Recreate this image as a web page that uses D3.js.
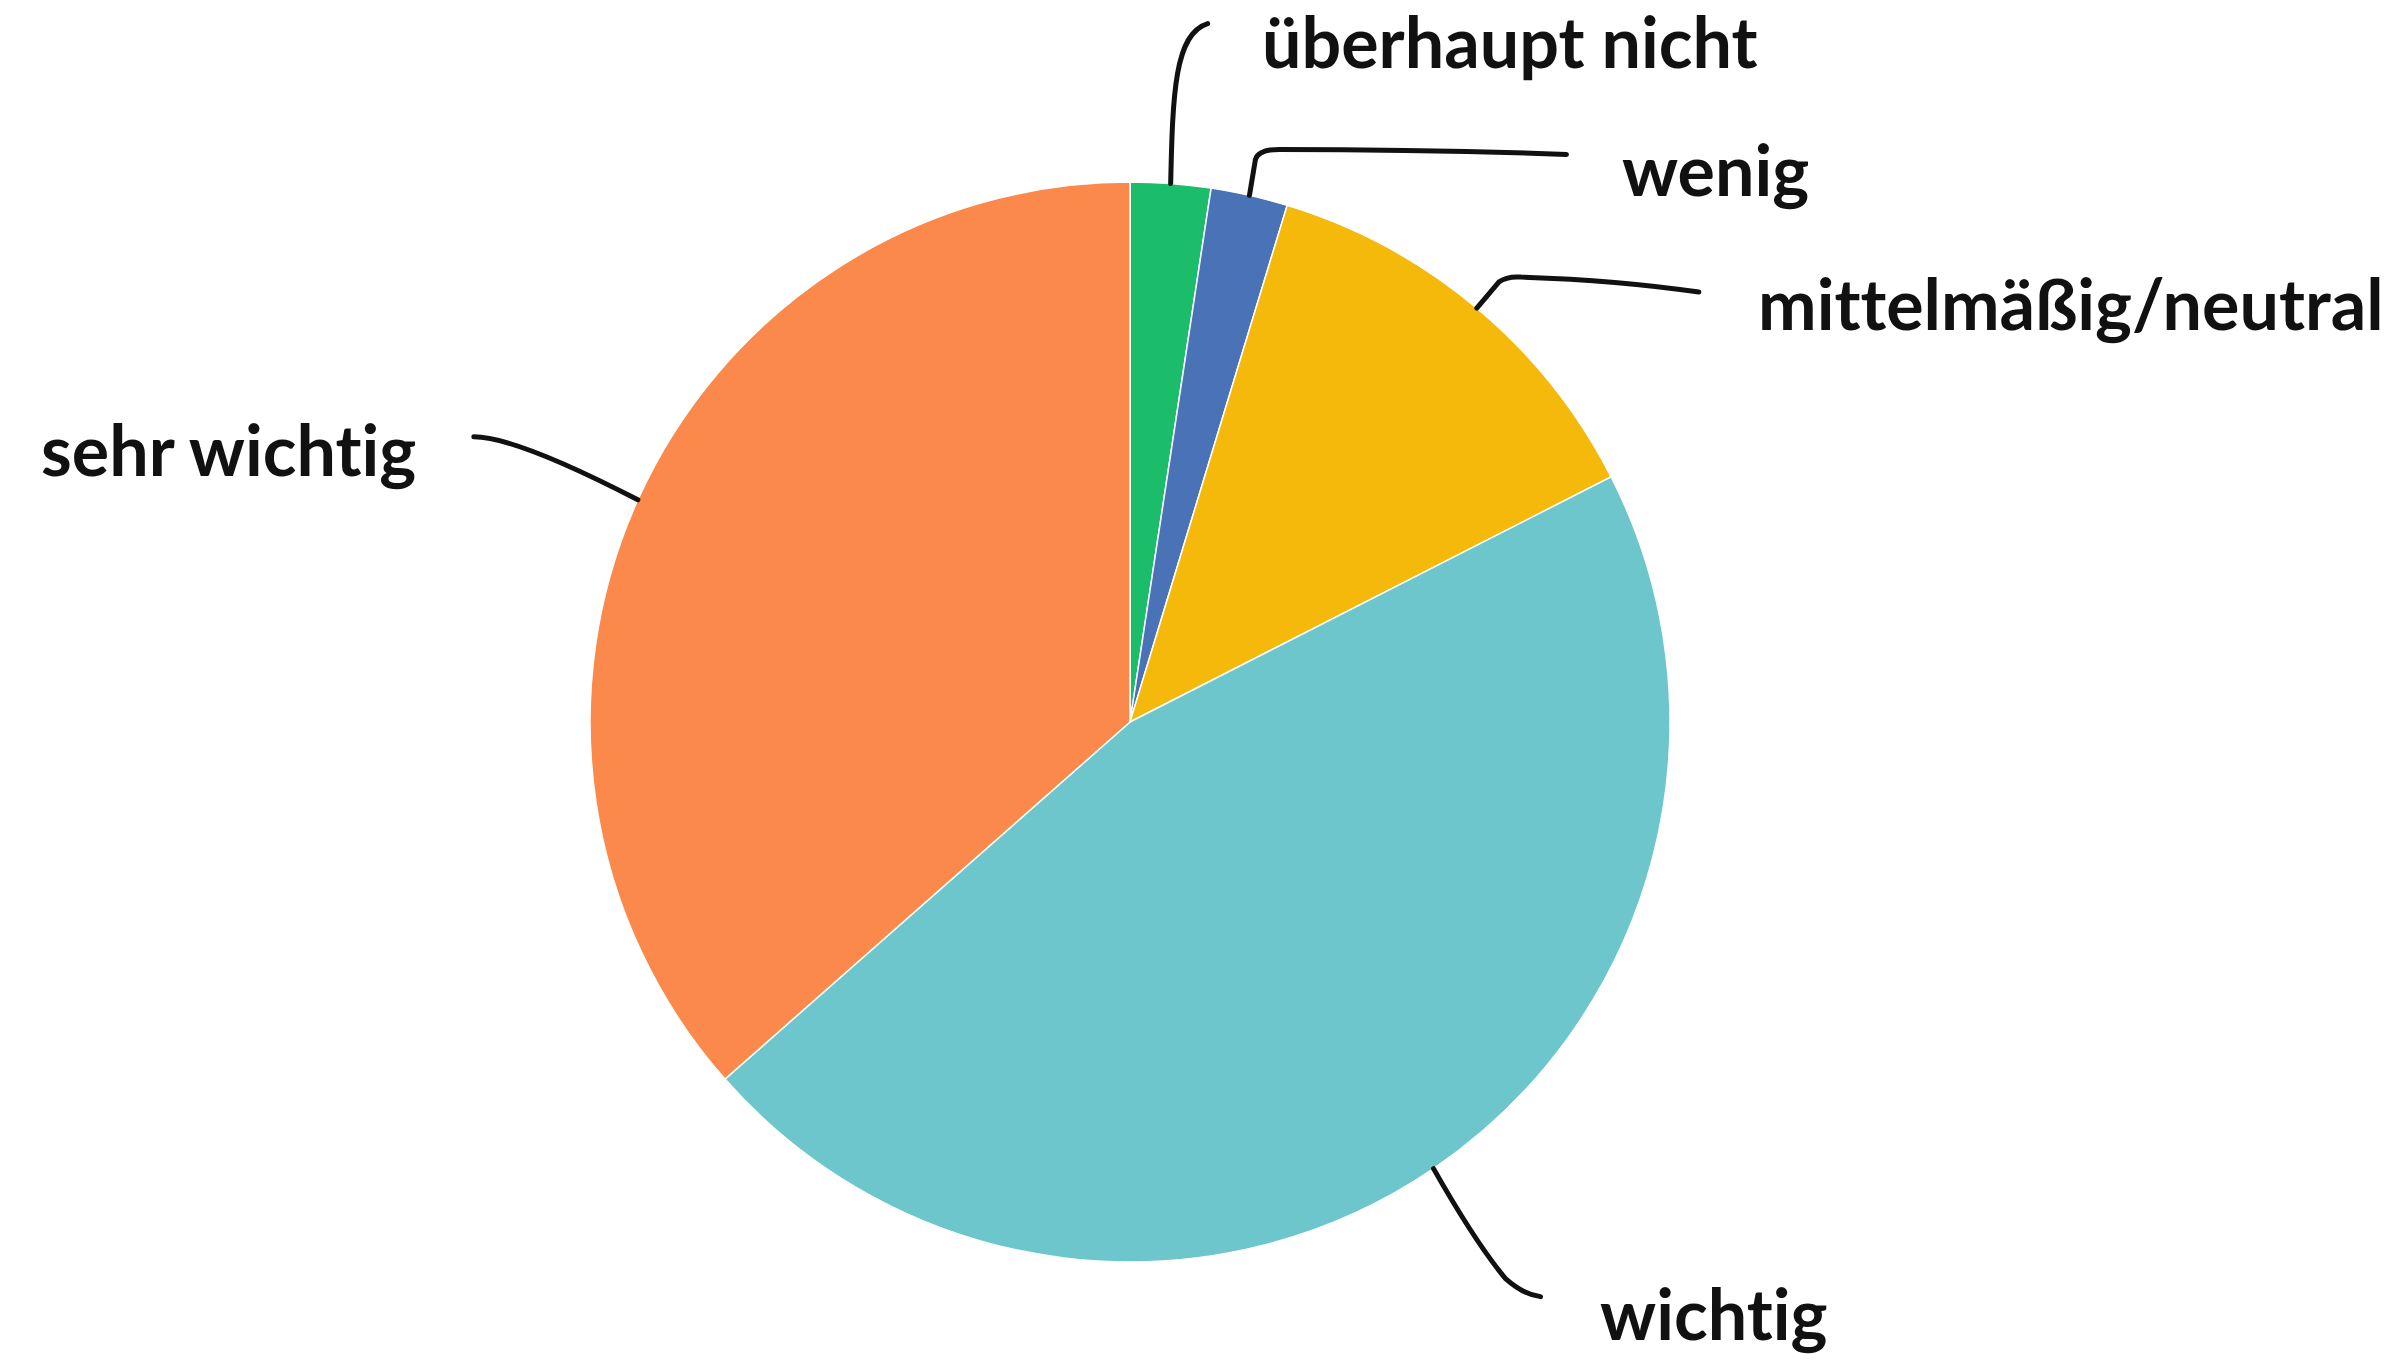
<!DOCTYPE html>
<html>
<head>
<meta charset="utf-8">
<script src="https://cdn.jsdelivr.net/npm/d3@7"></script>
<style>
  html, body { margin: 0; padding: 0; background: #ffffff; }
  svg { display: block; }
  text.label { font-variant-ligatures: none; font-feature-settings: "liga" 0, "clig" 0; }
</style>
</head>
<body>
<svg id="chart" width="2407" height="1365"></svg>
<script>
// Answers to "Wie wichtig ist …?" – share of responses in percent
const categories = ["überhaupt nicht", "wenig", "mittelmäßig/neutral", "wichtig", "sehr wichtig"];
const shares = [2.4, 2.3, 12.8, 46.0, 36.5];
const colors = ["#1bbd6b", "#4a72b7", "#f5b90b", "#6dc6cb", "#fa894b"];

// Label placement: anchor of the text and the shape of its leader line
// (leader offsets are relative to the slice's point on the rim)
const labelLayout = [
  { x: 1262, y: 68,   anchor: "start", leader: d => `M0,0 C2,-90 4,-150 37,-160` },
  { x: 1622, y: 196,  anchor: "start", leader: d => `M0,0 L6,-36 Q9,-46 30,-46 Q180,-46 317,-41` },
  { x: 1758, y: 330,  anchor: "start", leader: d => `M0,0 L22,-26 Q30,-32 44,-31 Q140,-28 222,-16` },
  { x: 1600, y: 1340, anchor: "start", leader: d => `M0,0 Q42,74 72,110 Q90,126 107,128` },
  { x: 41,   y: 476,  anchor: "start", leader: d => `M0,0 Q-122,-63 -164,-63` }
];

const svg = d3.select("#chart");
const cx = 1130, cy = 722, radius = 540;

const pie = d3.pie().sort(null).value(d => d.value);
const arcs = pie(categories.map((c, i) => ({ name: c, value: shares[i], color: colors[i] })));

const arc = d3.arc().innerRadius(0).outerRadius(radius);
const rim = d3.arc().innerRadius(radius).outerRadius(radius);

const g = svg.append("g").attr("transform", `translate(${cx},${cy})`);

g.selectAll("path.slice")
  .data(arcs)
  .join("path")
  .attr("class", "slice")
  .attr("d", arc)
  .attr("fill", d => d.data.color)
  .attr("stroke", "#ffffff")
  .attr("stroke-width", 1.5);

// Leader lines start at the middle of each slice's outer edge
g.selectAll("path.leader")
  .data(arcs)
  .join("path")
  .attr("class", "leader")
  .attr("transform", d => { const [x, y] = rim.centroid(d); return `translate(${x},${y})`; })
  .attr("d", (d, i) => labelLayout[i].leader(d))
  .attr("fill", "none")
  .attr("stroke", "#111111")
  .attr("stroke-width", 5)
  .attr("stroke-linecap", "round");

svg.selectAll("text.label")
  .data(arcs)
  .join("text")
  .attr("class", "label")
  .attr("x", (d, i) => labelLayout[i].x)
  .attr("y", (d, i) => labelLayout[i].y)
  .attr("text-anchor", (d, i) => labelLayout[i].anchor)
  .attr("font-family", "Lato, 'Noto Sans', sans-serif")
  .attr("font-weight", 700)
  .attr("font-size", 70)
  .attr("fill", "#111111")
  .text(d => d.data.name);
</script>
</body>
</html>
